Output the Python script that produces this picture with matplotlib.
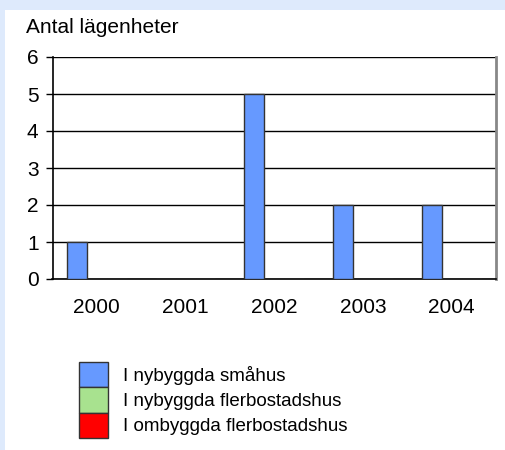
import matplotlib
matplotlib.use("Agg")
import matplotlib.pyplot as plt
import numpy as np

plt.rcParams['font.family'] = ['Liberation Sans', 'DejaVu Sans']

years = ["2000", "2001", "2002", "2003", "2004"]
smahus = [1, 0, 5, 2, 2]
flerbostad_ny = [0, 0, 0, 0, 0]
flerbostad_om = [0, 0, 0, 0, 0]
series_names = ["I nybyggda småhus", "I nybyggda flerbostadshus", "I ombyggda flerbostadshus"]
series_colors = ["#6699ff", "#a8e28f", "#ff0000"]
y_title = "Antal lägenheter"

W, H = 505, 450
fig = plt.figure(figsize=(W/100, H/100), dpi=100)
fig.patch.set_facecolor("#deeafc")
bg = fig.add_axes([5/W, 0, 1 - 5/W, (H-10)/H], zorder=-5)
bg.set_facecolor("white")
bg.set_xticks([]); bg.set_yticks([])
for s in bg.spines.values():
    s.set_visible(False)

left, right, top, bottom = 52.5, 496, 57, 279
ax = fig.add_axes([left/W, 1 - bottom/H, (right-left)/W, (bottom-top)/H], zorder=2)
ax.set_facecolor("white")

x = np.arange(len(years))
bw = 0.225
handles = []
for i, (vals, col, name) in enumerate(zip([smahus, flerbostad_ny, flerbostad_om], series_colors, series_names)):
    b = ax.bar(x + (i-1)*bw, vals, width=bw, color=col, edgecolor="#333333", linewidth=1.0,
               label=name, zorder=3)
    handles.append(b)

ax.set_xlim(-0.5, len(years)-0.5)
ax.set_ylim(0, 6)
ax.set_yticks(range(0, 7))
ax.yaxis.grid(True, color="black", linewidth=1.0, zorder=1)
ax.set_axisbelow(True)
ax.set_xticks(x)
ax.set_xticklabels(years)
ax.tick_params(axis='x', length=0, pad=14, labelsize=15)
ax.tick_params(axis='y', length=5, width=1, direction='out', pad=5, labelsize=15, color="black")
ax.spines["top"].set_visible(False)
ax.spines["right"].set_color("#888888")
ax.spines["right"].set_linewidth(2)
ax.spines["left"].set_color("black")
ax.spines["left"].set_linewidth(1.2)
ax.spines["bottom"].set_color("black")
ax.spines["bottom"].set_linewidth(1.2)

fig.text(26/W, 1 - 33/H, y_title, fontsize=15, ha="left", va="baseline")

leg = fig.legend(handles=handles, labels=series_names, loc="upper left",
                 bbox_to_anchor=(79/W, 1 - 362/H), frameon=False, fontsize=13.5,
                 borderpad=0, labelspacing=0, handlelength=1.55, handleheight=1.7,
                 handletextpad=0.8, borderaxespad=0)

fig.savefig("out.png", dpi=100, facecolor=fig.get_facecolor())
